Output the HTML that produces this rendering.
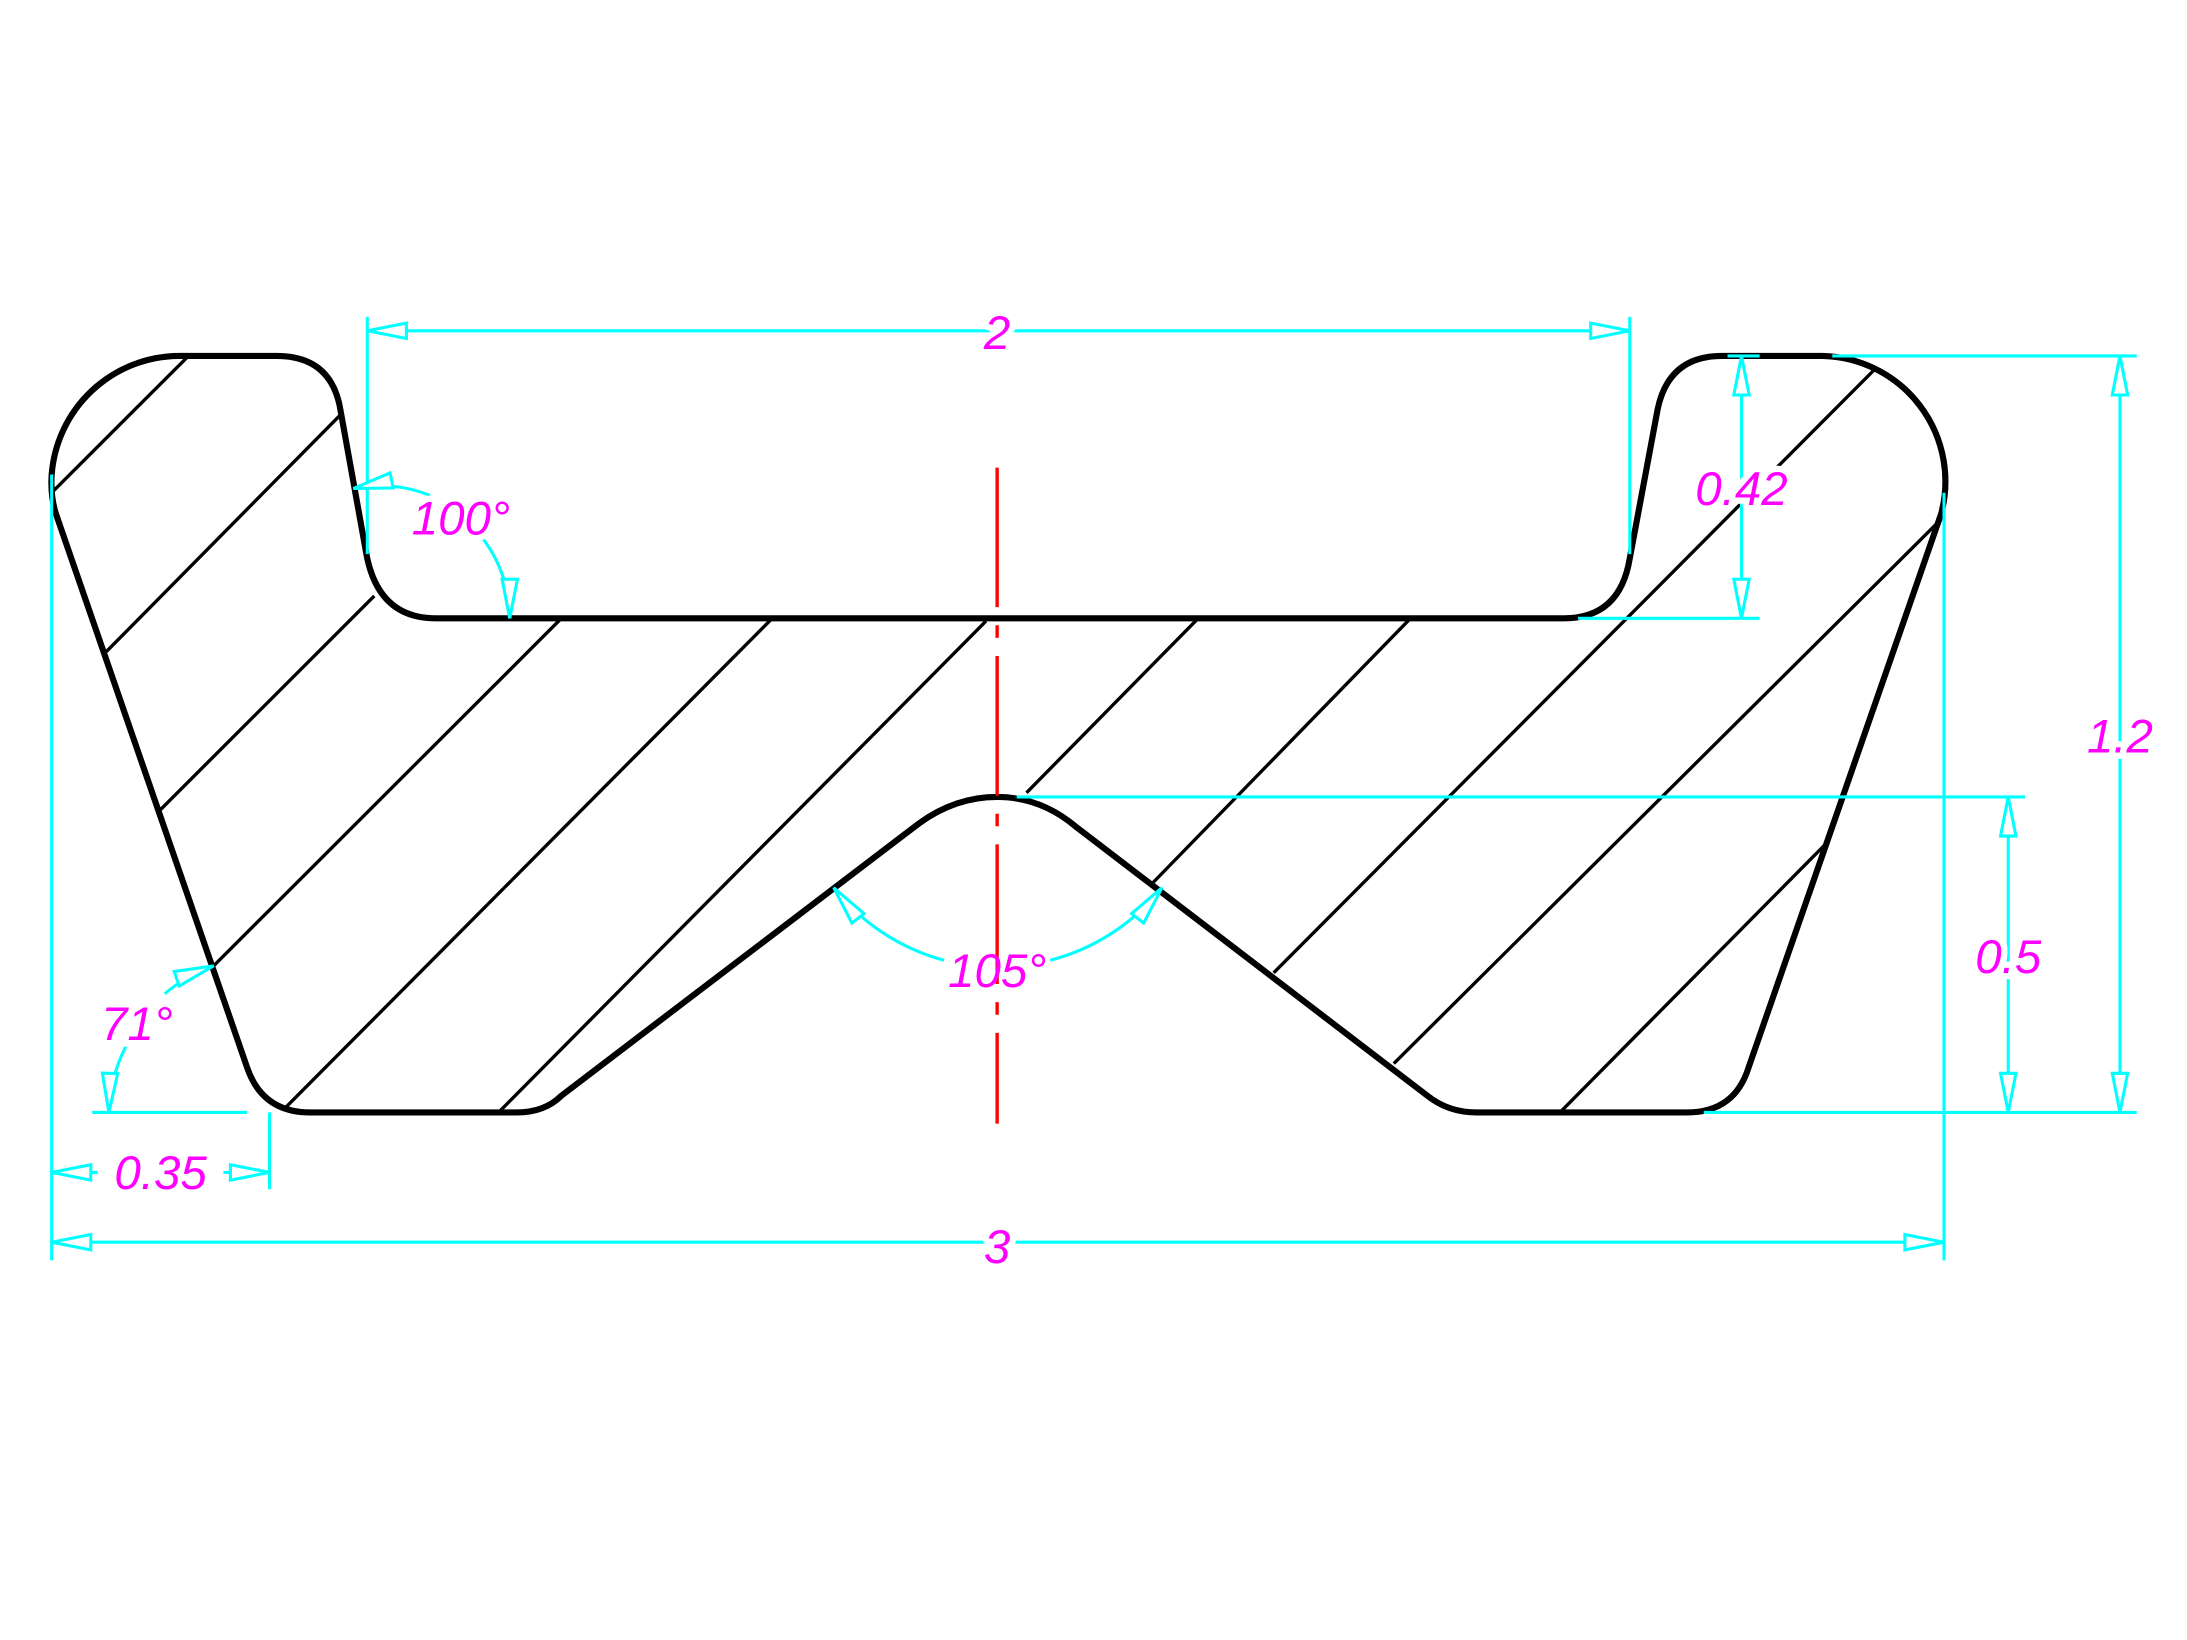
<!DOCTYPE html>
<html><head><meta charset="utf-8"><style>html,body{margin:0;padding:0;background:#fff}svg{display:block}</style></head>
<body>
<svg width="2187" height="1640" viewBox="0 0 1566 1175" preserveAspectRatio="none" xmlns="http://www.w3.org/2000/svg">
<defs>
<marker id="a" markerUnits="userSpaceOnUse" viewBox="-31 -9 33 18" markerWidth="33" markerHeight="18" refX="0" refY="0" orient="auto-start-reverse">
<path d="M0,0 L-28,-5.5 L-28,5.5 Z" fill="#fff" stroke="#00ffff" stroke-width="2.2"/>
</marker>
</defs>
<rect width="1566" height="1175" fill="#fff"/>
<g stroke="#000" stroke-width="2.4" fill="none">
<line x1="37" y1="353" x2="135" y2="255"/>
<line x1="76" y1="467" x2="243" y2="298"/>
<line x1="115" y1="580" x2="268" y2="427"/>
<line x1="153" y1="692" x2="402" y2="443"/>
<line x1="205" y1="793" x2="553" y2="443"/>
<line x1="357" y1="797" x2="706" y2="445"/>
<line x1="735" y1="568" x2="858" y2="443"/>
<line x1="825" y1="633" x2="1010" y2="443"/>
<line x1="912" y1="697" x2="1342" y2="265"/>
<line x1="998" y1="762" x2="1390" y2="372"/>
<line x1="1117" y1="797" x2="1307" y2="605"/>
</g>
<path d="M128,255 H198 Q238,255 244,295 L262,395 Q270,443 312,443 H1120 Q1160,443 1167,400 L1187,293 Q1195,255 1233,255 H1305 A90,90 0 0 1 1390,368 L1252,765 Q1242,797 1208,797 H1057 Q1037,797 1022,785 L770,592 Q745,571 714,571 Q684,571 658,590 L402,785 Q390,797 370,797 H222 Q188,797 177,765 L40,368 Q36,355 37,340 A92,92 0 0 1 128,255 Z" fill="none" stroke="#000" stroke-width="4.4" stroke-linejoin="round"/>
<line x1="714" y1="335" x2="714" y2="805" stroke="#ff0000" stroke-width="2.4" stroke-dasharray="100 13 9 13"/>
<g stroke="#00ffff" stroke-width="2.2" fill="none">
<line x1="263" y1="227" x2="263" y2="397"/>
<line x1="1167" y1="227" x2="1167" y2="397"/>
<line x1="263" y1="237" x2="1167" y2="237" marker-start="url(#a)" marker-end="url(#a)"/>
<line x1="1237" y1="255" x2="1260" y2="255"/>
<line x1="1130" y1="443" x2="1260" y2="443"/>
<line x1="1247" y1="255" x2="1247" y2="443" marker-start="url(#a)" marker-end="url(#a)"/>
<line x1="1312" y1="255" x2="1530" y2="255"/>
<line x1="1220" y1="797" x2="1530" y2="797"/>
<line x1="1518" y1="255" x2="1518" y2="797" marker-start="url(#a)" marker-end="url(#a)"/>
<line x1="728" y1="571" x2="1450" y2="571"/>
<line x1="1438" y1="571" x2="1438" y2="797" marker-start="url(#a)" marker-end="url(#a)"/>
<line x1="37" y1="340" x2="37" y2="903"/>
<line x1="1392" y1="353" x2="1392" y2="903"/>
<line x1="37" y1="890" x2="1392" y2="890" marker-start="url(#a)" marker-end="url(#a)"/>
<line x1="193" y1="797" x2="193" y2="852"/>
<line x1="70" y1="840" x2="37" y2="840" marker-end="url(#a)"/>
<line x1="160" y1="840" x2="193" y2="840" marker-end="url(#a)"/>
<line x1="66" y1="797" x2="177" y2="797"/>
<path d="M308,355 A94,94 0 0 0 253,350" marker-end="url(#a)"/>
<path d="M345,385 A94,94 0 0 1 365,443" marker-end="url(#a)"/>
<path d="M118,712 A110,110 0 0 1 153,692" marker-end="url(#a)"/>
<path d="M90,750 A110,110 0 0 0 78,797" marker-end="url(#a)"/>
<path d="M676,688 A150,150 0 0 1 597,636" marker-end="url(#a)"/>
<path d="M752,688 A150,150 0 0 0 832,636" marker-end="url(#a)"/>
</g>
<g fill="#ff00ff" font-family="Liberation Sans, sans-serif" font-style="italic" font-size="34" text-anchor="middle" stroke="#fff" stroke-width="9" paint-order="stroke" stroke-linejoin="round">
<text x="714" y="250">2</text>
<text x="1247" y="362">0.42</text>
<text x="1518" y="539">1.2</text>
<text x="1438" y="697">0.5</text>
<text x="714" y="905">3</text>
<text x="115" y="852">0.35</text>
<text x="330" y="383">100°</text>
<text x="98" y="745">71°</text>
<text x="714" y="707" stroke="none">105°</text>
</g>
</svg>
</body></html>
